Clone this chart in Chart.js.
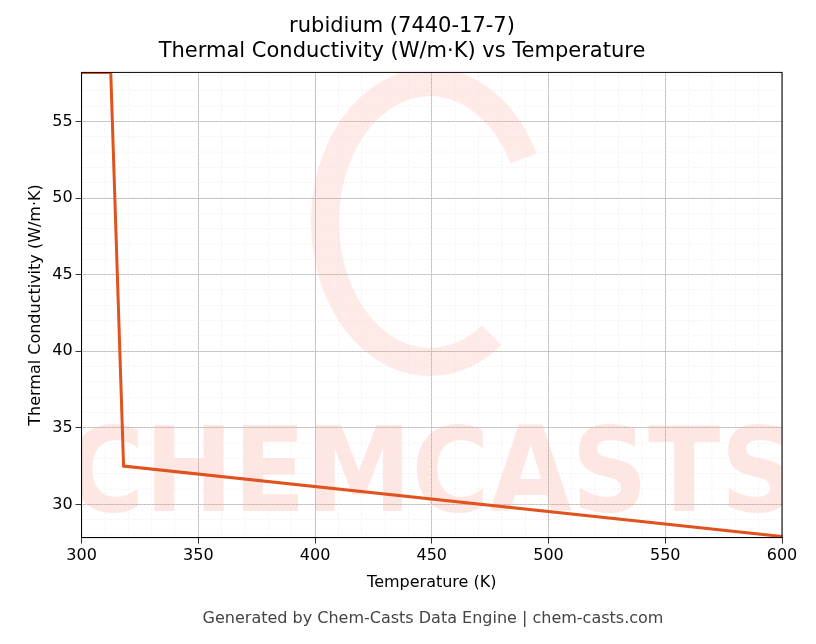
<!DOCTYPE html>
<html><head><meta charset="utf-8">
<script src="https://cdn.jsdelivr.net/npm/chart.js@4/dist/chart.umd.min.js"></script>
<style>body{margin:0;background:#fff;font-family:"DejaVu Sans";}#wrap{width:816px;height:644px;position:relative}</style>
</head><body><div id="wrap"><canvas id="c" width="816" height="644"></canvas></div>
<script>
// data
const temps = [300, 312.5, 318, 600];
const conductivity = [58.2, 58.2, 32.5, 27.9];
const xTicks = [300, 350, 400, 450, 500, 550, 600];
const yTicks = [30, 35, 40, 45, 50, 55];

const minorGrid = {
  id: "minorGrid",
  beforeDatasetsDraw(chart) {
    const { ctx, chartArea: a, scales: { x, y } } = chart;
    ctx.save();
    ctx.beginPath();
    ctx.rect(a.left, a.top, a.right - a.left, a.bottom - a.top);
    ctx.clip();
    ctx.font = "bold 118px 'DejaVu Sans Condensed'";
    ctx.fillStyle = "rgba(250,120,100,0.18)";
    ctx.textAlign = "center";
    ctx.textBaseline = "middle";
    ctx.fillText("CHEMCASTS", (a.left + a.right) / 2, 480);
    ctx.lineWidth = 28;
    ctx.strokeStyle = "rgba(250,120,100,0.15)";
    ctx.beginPath();
    ctx.ellipse(430, 222, 105, 140, 0, 0.3 * Math.PI, 1.85 * Math.PI);
    ctx.stroke();
    ctx.lineWidth = 0.5;
    ctx.strokeStyle = "#e4e4e4";
    ctx.setLineDash([2, 2]);
    for (let v = 300; v <= 600; v += 10) {
      const p = x.getPixelForValue(v);
      ctx.beginPath(); ctx.moveTo(p, a.top); ctx.lineTo(p, a.bottom); ctx.stroke();
    }
    for (let v = 28; v <= 58; v += 1) {
      const p = y.getPixelForValue(v);
      ctx.beginPath(); ctx.moveTo(a.left, p); ctx.lineTo(a.right, p); ctx.stroke();
    }
    ctx.restore();
  },
  afterDraw(chart) {
    const { ctx, chartArea: a } = chart;
    ctx.save();
    ctx.strokeStyle = "#000";
    ctx.lineWidth = 1;
    ctx.strokeRect(a.left, a.top, a.right - a.left, a.bottom - a.top);
    ctx.fillStyle = "#444";
    ctx.font = "16px 'DejaVu Sans'";
    ctx.textAlign = "center";
    ctx.textBaseline = "middle";
    ctx.fillText("Generated by Chem-Casts Data Engine | chem-casts.com", 433, 619);
    ctx.restore();
  }
};

new Chart(document.getElementById("c"), {
  type: "line",
  data: {
    datasets: [{
      data: temps.map((t, i) => ({ x: t, y: conductivity[i] })),
      borderColor: "#e0521e",
      borderWidth: 3,
      pointRadius: 0,
      tension: 0
    }]
  },
  options: {
    responsive: false,
    animation: false,
    layout: { padding: { left: 22, right: 34, top: 4, bottom: 48 } },
    plugins: {
      legend: { display: false },
      tooltip: { enabled: false },
      title: {
        display: true,
        text: ["rubidium (7440-17-7)", "Thermal Conductivity (W/m·K) vs Temperature"],
        color: "#000",
        font: { family: "DejaVu Sans", size: 21, weight: "normal", lineHeight: 1.2 },
        padding: { top: 10, bottom: 8 }
      }
    },
    scales: {
      x: {
        type: "linear", min: 300, max: 600,
        afterBuildTicks: s => { s.ticks = xTicks.map(v => ({ value: v })); },
        grid: { color: "#b0b0b0", lineWidth: 0.8, tickLength: 6, tickColor: "#000" },
        border: { color: "#000" },
        ticks: { color: "#000", font: { family: "DejaVu Sans", size: 16 } },
        title: { display: true, text: "Temperature (K)", color: "#000", font: { family: "DejaVu Sans", size: 16 } }
      },
      y: {
        type: "linear", min: 27.83, max: 58.2,
        afterBuildTicks: s => { s.ticks = yTicks.map(v => ({ value: v })); },
        grid: { color: "#b0b0b0", lineWidth: 0.8, tickLength: 6, tickColor: "#000" },
        border: { color: "#000" },
        ticks: { color: "#000", font: { family: "DejaVu Sans", size: 16 } },
        title: { display: true, text: "Thermal Conductivity (W/m·K)", color: "#000", font: { family: "DejaVu Sans", size: 16 } }
      }
    }
  },
  plugins: [minorGrid]
});
</script></body></html>
